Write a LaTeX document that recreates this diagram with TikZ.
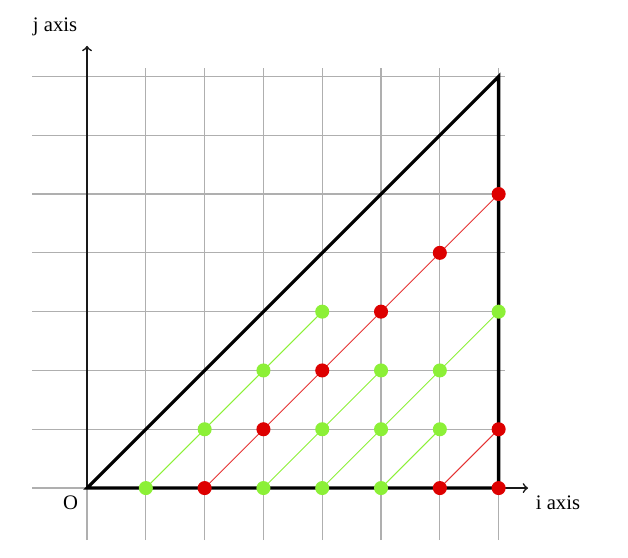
\documentclass[tikz,border=0pt]{standalone}
\usepackage{fontspec}
\setmainfont{Liberation Serif}
\usetikzlibrary{backgrounds}
\definecolor{dotred}{RGB}{221,0,0}
\definecolor{dotgreen}{RGB}{140,240,55}
\definecolor{gridgray}{RGB}{175,175,175}
\tikzset{
  rdot/.style={circle,fill=dotred,inner sep=0pt,minimum size=6.8pt},
  gdot/.style={circle,fill=dotgreen,inner sep=0pt,minimum size=6.8pt},
  rline/.style={draw=dotred!80,line width=0.45pt},
  gline/.style={draw=dotgreen,line width=0.45pt},
  gridline/.style={draw=gridgray,line width=0.6pt},
  axisline/.style={draw=black!90,line width=0.8pt,->},
  bound/.style={draw=black,line width=1.6pt,line join=miter},
  lbl/.style={font=\fontsize{10}{12}\selectfont,inner sep=0pt}
}
\begin{document}
\begin{tikzpicture}
\useasboundingbox (-1.480,-1.173) rectangle (9.200,8.300);
% named points
\coordinate (O) at (0,0);
\coordinate (xend) at (7.5,0);
\coordinate (yend) at (0,7.52);
\coordinate (T1) at (7,7);
\coordinate (T2) at (7,0);
% dots
\node[gdot] (g10) at (1,0) {};
\node[gdot] (g21) at (2,1) {};
\node[gdot] (g32) at (3,2) {};
\node[gdot] (g43) at (4,3) {};
\node[rdot] (r20) at (2,0) {};
\node[rdot] (r31) at (3,1) {};
\node[rdot] (r42) at (4,2) {};
\node[rdot] (r53) at (5,3) {};
\node[rdot] (r64) at (6,4) {};
\node[rdot] (r75) at (7,5) {};
\node[gdot] (g30) at (3,0) {};
\node[gdot] (g41) at (4,1) {};
\node[gdot] (g52) at (5,2) {};
\node[gdot] (g40) at (4,0) {};
\node[gdot] (g51) at (5,1) {};
\node[gdot] (g62) at (6,2) {};
\node[gdot] (g73) at (7,3) {};
\node[gdot] (g50) at (5,0) {};
\node[gdot] (g61) at (6,1) {};
\node[rdot] (r60) at (6,0) {};
\node[rdot] (r71) at (7,1) {};
\node[rdot] (r70) at (7,0) {};
% labels
\node[lbl] (jlab) at (-0.544,7.84) {j axis};
\node[lbl] (ilab) at (8.01,-0.255) {i axis};
\node[lbl] (olab) at (-0.28,-0.255) {O};
\begin{pgfonlayer}{background}
\draw[gridline] (-0.935,-0.884) grid (7.11,7.14);
\draw[axisline] (O) -- (xend);
\draw[axisline] (O) -- (yend);
\draw[bound] (O) -- (T1) -- (T2) -- cycle;
\draw[gline] (g10.center) -- (g43.center);
\draw[rline] (r20.center) -- (r75.center);
\draw[gline] (g30.center) -- (g52.center);
\draw[gline] (g40.center) -- (g73.center);
\draw[gline] (g50.center) -- (g61.center);
\draw[rline] (r60.center) -- (r71.center);
\end{pgfonlayer}
\end{tikzpicture}
\end{document}
